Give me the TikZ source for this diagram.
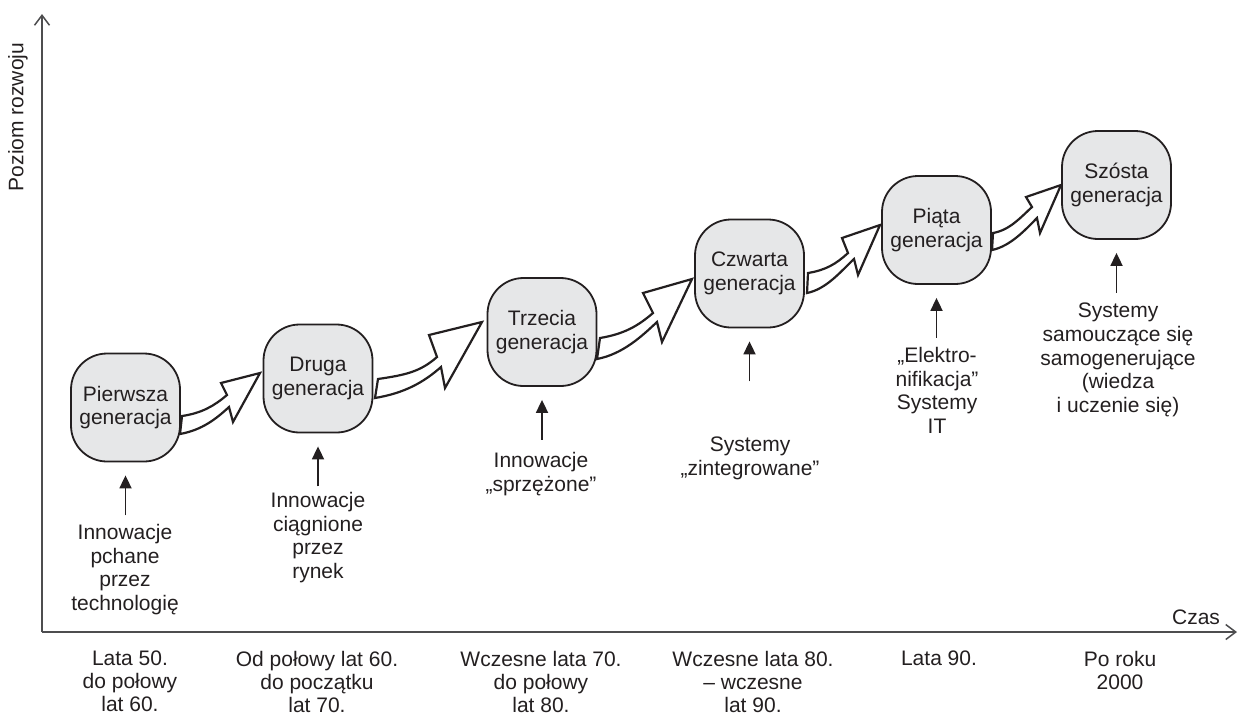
\documentclass[tikz,border=0pt]{standalone}
\usepackage{fontspec}
\setmainfont{Liberation Sans}
\usetikzlibrary{arrows.meta}
\definecolor{ink}{HTML}{231F20}
\definecolor{boxfill}{HTML}{E6E7E8}
\definecolor{axisgray}{HTML}{4D4D4F}
\begin{document}
\begin{tikzpicture}[x=1pt,y=-1pt,
  txt/.style={text=ink, font=\fontsize{21}{23.6}\selectfont},
  gen/.style={txt, draw=ink, line width=1.8pt, fill=boxfill, rounded corners=36pt,
    minimum width=109pt, minimum height=108pt, align=center, inner sep=0pt},
  lbl/.style={txt, align=center, inner sep=0pt, anchor=north},
  bigarr/.style={draw=ink, fill=white, line width=2.2pt, line join=miter, miter limit=10},
  smallarr/.style={draw=ink, line width=1.8pt, -{Triangle[length=13pt,width=12pt]}},
  axisline/.style={draw=axisgray, line width=1.5pt, -{Straight Barb[length=10pt,width=15pt,line width=1.5pt]}}]
\useasboundingbox (0,0) rectangle (1238,716);

% axes
\coordinate (O) at (42,632);
\coordinate (Ytop) at (42,14);
\coordinate (Xend) at (1237,632);
\draw[axisline] (O) -- (Ytop);
\draw[axisline] (O) -- (Xend);
\node[txt, rotate=90] (ylab) at (18,117) {Poziom rozwoju};
\node[txt] (czas) at (1196,617) {Czas};

% generation nodes
\node[gen] (g1) at (125.5,407.5) {Pierwsza\\generacja};
\node[gen] (g2) at (318,378.5) {Druga\\generacja};
\node[gen] (g3) at (542,332) {Trzecia\\generacja};
\node[gen] (g4) at (749.5,273.5) {Czwarta\\generacja};
\node[gen] (g5) at (936.5,230) {Piąta\\generacja};
\node[gen] (g6) at (1116.5,185) {Szósta\\generacja};

% big hollow arrows
\draw[bigarr] (182,416) .. controls +(20,-3) and +(-13,11) .. (227,395) -- (221,383) -- (260,373) -- (233,422) -- (229,407)
  .. controls +(-13,12) and +(22,-4) .. (180,434) -- cycle;
\draw[bigarr] (378,379) .. controls +(27,-4) and +(-17,15) .. (437,357) -- (429,335) -- (482,322) -- (445,388) -- (441,367)
  .. controls +(-17,15) and +(30,-5) .. (375,398) -- cycle;
\draw[bigarr] (600,338) .. controls +(24,-4) and +(-15,13) .. (653,313) -- (643,293) -- (692,279) -- (662,342) -- (657,322)
  .. controls +(-15,14) and +(26,-5) .. (597,359) -- cycle;
\draw[bigarr] (808,273) .. controls +(18,-3) and +(-12,11) .. (848,253) -- (842,238) -- (880,225) -- (858,275) -- (854,259)
  .. controls +(-12,11) and +(20,-4) .. (807,293) -- cycle;
\draw[bigarr] (993,233) .. controls +(17,-3) and +(-11,10) .. (1032,207) -- (1026,197) -- (1061,185) -- (1040,233) -- (1037,218)
  .. controls +(-11,11) and +(19,-4) .. (992,250) -- cycle;

% descriptions
\node[lbl] (t1) at (125,524) {Innowacje\\pchane\\przez\\technologię};
\node[lbl] (t2) at (318,492) {Innowacje\\ciągnione\\przez\\rynek};
\node[lbl] (t3) at (541,452) {Innowacje\\„sprzężone”};
\node[lbl] (t4) at (750,437) {Systemy\\„zintegrowane”};
\node[lbl] (t5) at (937,347) {„Elektro-\\nifikacja”\\Systemy\\IT};
\node[lbl] (t6) at (1118,303) {Systemy\\samouczące się\\samogenerujące\\(wiedza\\i uczenie się)};

\draw[smallarr] ([yshift=-53pt]g1.south) -- ([yshift=-13pt]g1.south);
\draw[smallarr] ([yshift=-53pt]g2.south) -- ([yshift=-13pt]g2.south);
\draw[smallarr] ([yshift=-53pt]g3.south) -- ([yshift=-13pt]g3.south);
\draw[smallarr] ([yshift=-53pt]g4.south) -- ([yshift=-13pt]g4.south);
\draw[smallarr] ([yshift=-53pt]g5.south) -- ([yshift=-13pt]g5.south);
\draw[smallarr] ([yshift=-53pt]g6.south) -- ([yshift=-13pt]g6.south);

% time labels
\begin{scope}[lbl/.append style={font=\fontsize{21}{23}\selectfont}]
\node[lbl] (b1) at (130,651) {Lata 50.\\do połowy\\lat 60.};
\node[lbl] (b2) at (317,651) {Od połowy lat 60.\\do początku\\lat 70.};
\node[lbl] (b3) at (541,651) {Wczesne lata 70.\\do połowy\\lat 80.};
\node[lbl] (b4) at (753,651) {Wczesne lata 80.\\– wczesne\\lat 90.};
\node[lbl] (b5) at (939,651) {Lata 90.};
\node[lbl] (b6) at (1120,651) {Po roku\\2000};
\end{scope}
\end{tikzpicture}
\end{document}
